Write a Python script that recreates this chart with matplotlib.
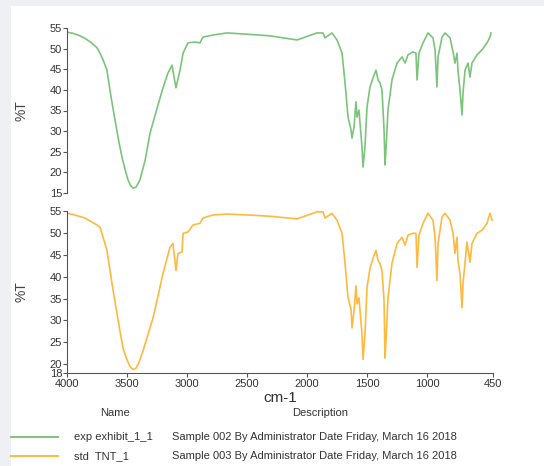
import numpy as np
import matplotlib
matplotlib.use("Agg")
import matplotlib.pyplot as plt
from matplotlib.patches import Rectangle

plt.rcParams['font.family'] = ['Liberation Sans Narrow', 'Liberation Sans', 'DejaVu Sans']

# spectrum 1: exp exhibit_1_1 (wavenumber, %T)
exp_wn = [4000, 3950, 3900, 3850, 3800, 3750, 3725, 3700, 3667, 3640, 3600, 3570,
          3542, 3515, 3492, 3470, 3450, 3425, 3392, 3350, 3308, 3250, 3200, 3160,
          3125, 3092, 3058, 3033, 2992, 2933, 2892, 2867, 2783, 2667, 2500, 2308,
          2083, 1917, 1867, 1850, 1792, 1750, 1708, 1683, 1658, 1633, 1625, 1608,
          1592, 1583, 1567, 1542, 1533, 1517, 1500, 1475, 1450, 1425, 1408, 1392,
          1375, 1358, 1350, 1342, 1325, 1292, 1250, 1208, 1183, 1158, 1117, 1092,
          1083, 1067, 1033, 992, 950, 933, 917, 908, 875, 850, 808, 783, 767, 750,
          742, 725, 708, 700, 683, 658, 642, 625, 583, 542, 500, 475, 467]
exp_t = [54.0, 53.7, 53.2, 52.5, 51.5, 50.2, 48.9, 47.3, 44.8, 39.5, 32.7, 27.8,
         23.7, 20.6, 18.2, 16.8, 16.2, 16.4, 18.2, 22.8, 29.5, 35.5, 40.5, 44.0,
         46.0, 40.5, 44.8, 48.9, 51.4, 51.6, 51.4, 52.8, 53.3, 53.8, 53.5, 53.1,
         52.1, 53.8, 53.8, 52.6, 53.8, 52.1, 48.9, 41.7, 33.4, 30.3, 28.3, 31.0,
         37.1, 33.4, 35.1, 26.2, 21.3, 26.2, 35.8, 40.7, 42.9, 44.8, 42.4, 41.7,
         40.0, 30.3, 21.8, 25.4, 35.1, 42.4, 46.5, 48.0, 46.5, 48.5, 49.2, 48.9,
         42.4, 48.9, 51.4, 53.8, 52.6, 49.7, 40.7, 48.0, 52.8, 53.8, 52.6, 49.2,
         46.5, 48.9, 44.8, 40.0, 33.9, 39.2, 44.8, 46.5, 43.1, 46.5, 48.5, 49.7,
         51.4, 52.8, 53.8]

# spectrum 2: std TNT_1
std_wn = [4000, 3950, 3900, 3850, 3800, 3750, 3725, 3700, 3667, 3625, 3583, 3555,
          3533, 3500, 3475, 3450, 3425, 3400, 3367, 3325, 3283, 3240, 3200, 3142,
          3117, 3092, 3075, 3042, 3033, 2992, 2950, 2892, 2867, 2783, 2667, 2500,
          2308, 2083, 1917, 1867, 1850, 1792, 1750, 1708, 1683, 1658, 1633, 1625,
          1608, 1592, 1583, 1567, 1542, 1533, 1517, 1500, 1475, 1450, 1425, 1408,
          1392, 1375, 1358, 1350, 1342, 1325, 1292, 1250, 1208, 1183, 1158, 1117,
          1092, 1083, 1067, 1033, 992, 950, 933, 917, 908, 875, 850, 808, 783, 767,
          750, 742, 725, 708, 700, 667, 642, 625, 583, 542, 500, 475, 458]
std_t = [54.5, 54.2, 53.8, 53.4, 52.6, 51.8, 51.3, 49.0, 46.0, 38.4, 31.5, 27.0,
         23.7, 21.0, 19.5, 18.8, 19.1, 20.4, 23.0, 26.8, 30.6, 35.8, 40.7, 46.7,
         47.6, 41.4, 45.3, 45.6, 49.9, 50.2, 51.8, 52.2, 53.4, 54.1, 54.3, 54.1,
         53.8, 53.2, 54.8, 54.8, 53.4, 54.5, 52.9, 49.9, 43.0, 35.2, 32.6, 28.3,
         32.2, 37.9, 33.8, 35.2, 26.9, 21.1, 26.9, 37.5, 41.9, 44.2, 46.0, 43.7,
         43.0, 41.4, 34.5, 21.4, 25.3, 35.2, 43.0, 47.6, 49.0, 47.2, 49.5, 49.9,
         49.9, 42.1, 49.5, 52.2, 54.5, 52.9, 49.0, 39.1, 47.6, 53.6, 54.5, 52.9,
         49.9, 45.3, 49.0, 43.7, 40.7, 32.9, 38.4, 47.9, 43.3, 47.6, 49.9, 50.6,
         52.2, 54.5, 52.9]

x_ticks = [4000, 3500, 3000, 2500, 2000, 1500, 1000, 450]
top_yticks = [15, 20, 25, 30, 35, 40, 45, 50, 55]
bot_yticks = [18, 20, 25, 30, 35, 40, 45, 50, 55]

names = ["exp exhibit_1_1", "std  TNT_1"]
descs = ["Sample 002 By Administrator Date Friday, March 16 2018",
         "Sample 003 By Administrator Date Friday, March 16 2018"]
green = "#7cc47c"
orange = "#ffb93f"

W, H = 544, 466
fig = plt.figure(figsize=(W / 100, H / 100), dpi=100)
fig.patch.set_facecolor("#eef0f3")
fig.patches.append(Rectangle((11 / W, 0), 1, 1 - 6 / H, transform=fig.transFigure,
                             facecolor="white", edgecolor="none", zorder=-5))

def fx(px):
    return px / W

def fy(py):
    return 1 - py / H

ax1 = fig.add_axes([fx(67), fy(193), fx(493) - fx(67), fy(28) - fy(193)])
ax2 = fig.add_axes([fx(67), fy(373), fx(493) - fx(67), fy(211) - fy(373)])

ax1.plot(exp_wn, exp_t, color=green, lw=1.2)
ax2.plot(std_wn, std_t, color=orange, lw=1.2)

for ax, yt, ylim in [(ax1, top_yticks, (15, 55)), (ax2, bot_yticks, (18, 55))]:
    ax.set_facecolor("none")
    ax.set_xlim(4000, 450)
    ax.set_ylim(*ylim)
    ax.set_yticks(yt)
    for s in ["top", "right"]:
        ax.spines[s].set_visible(False)
    ax.spines["left"].set_color("#555555")
    ax.spines["bottom"].set_color("#555555")
    ax.tick_params(axis="y", length=3, width=0.8, color="#555555", labelsize=8,
                   labelcolor="#333333", pad=0.5)
    ax.set_ylabel("%T", fontsize=10, color="#444444", labelpad=15)

ax1.spines["bottom"].set_visible(False)
ax1.set_xticks([])
ax2.set_xticks(x_ticks)
ax2.set_xticklabels([str(v) for v in x_ticks])
ax2.tick_params(axis="x", length=3, width=0.8, color="#555555", labelsize=8,
                labelcolor="#333333", pad=1)
ax2.set_xlabel("cm-1", fontsize=11, color="#333333", labelpad=2)

fig.text(fx(115), fy(413), "Name", fontsize=8, color="#333333", ha="center", va="center")
fig.text(fx(320), fy(413), "Description", fontsize=8, color="#333333", ha="center", va="center")
for i, (nm, ds, c) in enumerate(zip(names, descs, [green, orange])):
    y = 437 + i * 19
    fig.add_artist(plt.Line2D([fx(11), fx(58)], [fy(y), fy(y)], color=c, lw=1.4,
                              transform=fig.transFigure))
    fig.text(fx(74), fy(y), nm, fontsize=8, color="#333333", va="center")
    fig.text(fx(172), fy(y), ds, fontsize=8, color="#333333", va="center")

fig.savefig("out.png", dpi=100)
